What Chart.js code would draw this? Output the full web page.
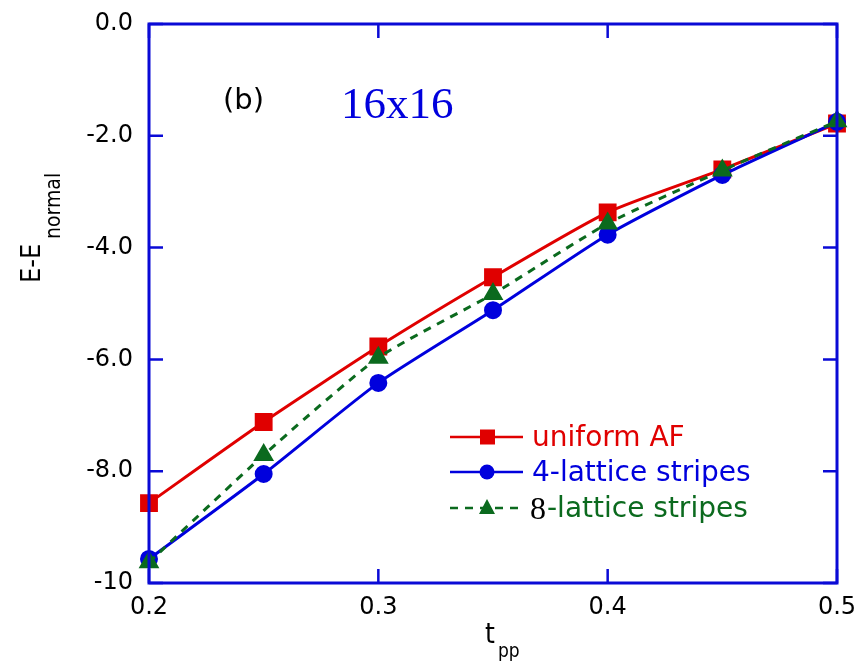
<!DOCTYPE html>
<html>
<head>
<meta charset="utf-8">
<script src="https://cdn.jsdelivr.net/npm/chart.js@4"></script>
<style>
  body { margin: 0; background: #fff; }
  #wrap { width: 861px; height: 664px; }
</style>
</head>
<body>
<div id="wrap"><canvas id="myChart" width="861" height="664"></canvas></div>
<script>
// data
const tpp = [0.2, 0.25, 0.3, 0.35, 0.4, 0.45, 0.5];
const uniformAF = [-8.57, -7.12, -5.77, -4.53, -3.37, -2.60, -1.78];
const lattice4 = [-9.57, -8.05, -6.42, -5.12, -3.77, -2.70, -1.75];
const lattice8 = [-9.63, -7.71, -5.97, -4.83, -3.57, -2.62, -1.74];
const seriesNames = ['uniform AF', '4-lattice stripes', '8-lattice stripes'];
const xTicks = [0.2, 0.3, 0.4, 0.5];
const yTicks = [0, -2, -4, -6, -8, -10];

const axisBlue = '#0a0ad6';
const red = '#e00000';
const blue = '#0000dd';
const green = '#0b6a1e';
const condensed = '"DejaVu Sans Condensed", "DejaVu Sans"';

function pts(ys) {
    return tpp.map((x, i) => ({x: x, y: ys[i]}));
}

// frame, inward ticks, legend and labels
const decor = {
    id: 'decor',
    afterDraw(chart) {
        const ctx = chart.ctx;
        const a = chart.chartArea;
        const xs = chart.scales.x, ys = chart.scales.y;
        ctx.save();
        ctx.strokeStyle = axisBlue;
        ctx.lineWidth = 3;
        ctx.strokeRect(a.left, a.top, a.right - a.left, a.bottom - a.top);
        ctx.lineWidth = 2.5;
        ctx.beginPath();
        xTicks.forEach(v => {
            const px = xs.getPixelForValue(v);
            ctx.moveTo(px, a.bottom); ctx.lineTo(px, a.bottom - 14);
            ctx.moveTo(px, a.top); ctx.lineTo(px, a.top + 14);
        });
        yTicks.forEach(v => {
            const py = ys.getPixelForValue(v);
            ctx.moveTo(a.left, py); ctx.lineTo(a.left + 14, py);
            ctx.moveTo(a.right, py); ctx.lineTo(a.right - 14, py);
        });
        ctx.stroke();

        // (b) and 16x16
        ctx.textBaseline = 'alphabetic';
        ctx.textAlign = 'left';
        ctx.fillStyle = '#000';
        ctx.font = '29px "DejaVu Sans"';
        ctx.fillText('(b)', 223, 109);
        ctx.fillStyle = blue;
        ctx.font = '45px "Liberation Serif"';
        ctx.fillText('16x16', 341, 118);

        // axis titles
        ctx.fillStyle = '#000';
        ctx.font = '28px ' + condensed;
        ctx.fillText('t', 485, 643);
        ctx.font = '19px ' + condensed;
        ctx.fillText('pp', 498, 657);
        ctx.save();
        ctx.translate(40, 283);
        ctx.rotate(-Math.PI / 2);
        ctx.font = '27px ' + condensed;
        ctx.fillText('E-E', 0, 0);
        ctx.font = '21px ' + condensed;
        ctx.fillText('normal', 44, 20);
        ctx.restore();

        // legend
        const rows = [
            {c: red, dash: [], style: 'rect', y: 437},
            {c: blue, dash: [], style: 'circle', y: 472},
            {c: green, dash: [8, 7], style: 'triangle', y: 508}
        ];
        ctx.textBaseline = 'middle';
        rows.forEach((r, i) => {
            ctx.strokeStyle = r.c;
            ctx.fillStyle = r.c;
            ctx.lineWidth = 2.5;
            ctx.setLineDash(r.dash);
            ctx.beginPath();
            ctx.moveTo(450, r.y); ctx.lineTo(523, r.y);
            ctx.stroke();
            ctx.setLineDash([]);
            ctx.beginPath();
            if (r.style === 'rect') ctx.rect(480, r.y - 7.5, 15, 15);
            else if (r.style === 'circle') ctx.arc(487, r.y, 7.5, 0, Math.PI * 2);
            else { ctx.moveTo(487, r.y - 9); ctx.lineTo(495, r.y + 6); ctx.lineTo(479, r.y + 6); ctx.closePath(); }
            ctx.fill();
            ctx.textAlign = 'left';
            if (i === 2) {
                ctx.fillStyle = '#000';
                ctx.font = '32px "Liberation Serif"';
                ctx.fillText('8', 530, r.y + 3);
                ctx.fillStyle = r.c;
                ctx.font = '28px "DejaVu Sans"';
                ctx.fillText(seriesNames[i].slice(1), 547, r.y + 2);
            } else {
                ctx.font = '28px "DejaVu Sans"';
                ctx.fillText(seriesNames[i], 532, r.y + 2);
            }
        });
        ctx.restore();
    }
};

const ctx = document.getElementById('myChart').getContext('2d');
const myChart = new Chart(ctx, {
    type: 'line',
    data: {
        datasets: [{
            label: seriesNames[0],
            data: pts(uniformAF),
            borderColor: red,
            backgroundColor: red,
            borderWidth: 3,
            pointStyle: 'rect',
            pointRadius: 10.5,
            order: 3
        },
        {
            label: seriesNames[1],
            data: pts(lattice4),
            borderColor: blue,
            backgroundColor: blue,
            borderWidth: 3,
            pointStyle: 'circle',
            pointRadius: 7.5,
            order: 2
        },
        {
            label: seriesNames[2],
            data: pts(lattice8),
            borderColor: green,
            backgroundColor: green,
            borderWidth: 3,
            borderDash: [8, 7],
            pointStyle: 'triangle',
            pointRadius: 9,
            order: 1
        }]
    },
    options: {
        responsive: false,
        animation: false,
        clip: false,
        elements: {
            line: { tension: 0.2 },
            point: { borderWidth: 0 }
        },
        layout: { padding: { top: 24, right: 24, left: 0, bottom: 0 } },
        plugins: {
            legend: { display: false },
            tooltip: { enabled: false }
        },
        scales: {
            x: {
                type: 'linear',
                min: 0.2,
                max: 0.5,
                afterFit: s => { s.height = 81; },
                afterBuildTicks: s => { s.ticks = xTicks.map(v => ({value: v})); },
                grid: { display: false },
                border: { display: false },
                ticks: {
                    padding: 2,
                    color: '#000',
                    font: { family: '"DejaVu Sans"', size: 24 },
                    callback: v => v.toFixed(1)
                }
            },
            y: {
                min: -10,
                max: 0,
                afterFit: s => { s.width = 149; },
                afterBuildTicks: s => { s.ticks = yTicks.map(v => ({value: v})); },
                grid: { display: false },
                border: { display: false },
                ticks: {
                    padding: 8,
                    color: '#000',
                    font: { family: '"DejaVu Sans"', size: 24 },
                    callback: v => v === -10 ? '-10' : v.toFixed(1)
                }
            }
        }
    },
    plugins: [decor]
});
</script>
</body>
</html>
